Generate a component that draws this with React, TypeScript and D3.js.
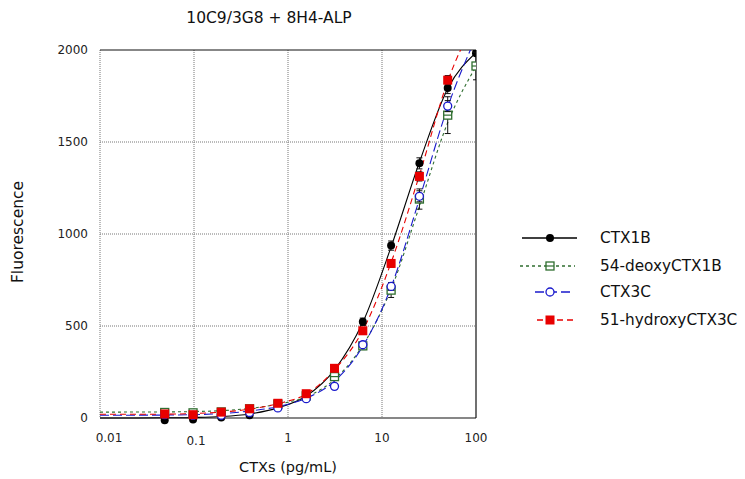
import React, { useRef, useEffect } from "react";
import * as d3 from "d3";

// concentrations (pg/mL), two-fold dilutions
const conc = [0.0488, 0.0977, 0.195, 0.39, 0.78, 1.5625, 3.125, 6.25, 12.5, 25, 50, 100];

// measured points (mean fluorescence) and error
const ctx1b = [-12, -8, 3, 15, 70, 130, 250, 523, 937, 1384, 1793, 1983];
const ctx1bErr = [5, 5, 5, 5, 8, 10, 12, 20, 25, 30, 30, 10];
const deoxy = [30, 28, 33, 50, 75, 120, 225, 392, 695, 1190, 1646, 1913];
const deoxyErr = [5, 5, 5, 5, 8, 10, 12, 20, 40, 55, 100, 75];
const ctx3c = [18, 14, 15, 30, 55, 105, 172, 398, 715, 1205, 1695, 2080];
const ctx3cErr = [5, 5, 5, 5, 8, 10, 12, 15, 20, 30, 30, 20];
const hydroxy = [22, 18, 32, 50, 80, 132, 270, 474, 840, 1313, 1836, 2150];
const hydroxyErr = [5, 5, 5, 5, 8, 10, 12, 15, 20, 25, 25, 20];

// fitted curves
const fitConc = [0.01, 0.0488, 0.0977, 0.195, 0.39, 0.78, 1.5625, 3.125, 6.25, 12.5, 25, 50, 100];
const ctx1bFit = [0, 1, 3, 8, 22, 55, 120, 262, 520, 930, 1390, 1790, 1985];
const deoxyFit = [32, 33, 35, 40, 52, 75, 115, 210, 395, 700, 1150, 1605, 1910];
const ctx3cFit = [15, 16, 18, 24, 38, 62, 108, 200, 390, 712, 1190, 1690, 2070];
const hydroxyFit = [20, 21, 24, 32, 48, 78, 130, 262, 476, 845, 1320, 1830, 2170];

const seriesNames = ["CTX1B", "54-deoxyCTX1B", "CTX3C", "51-hydroxyCTX3C"];
const xTicks = [0.01, 0.1, 1, 10, 100];
const xTickLabels = ["0.01", "0.1", "1", "10", "100"];
const yTicks = [0, 500, 1000, 1500, 2000];

const series = [
  { name: seriesNames[0], vals: ctx1b, err: ctx1bErr, fit: ctx1bFit, color: "#000000", dash: null, marker: "dot" },
  { name: seriesNames[1], vals: deoxy, err: deoxyErr, fit: deoxyFit, color: "#2f6e2f", dash: "3,3", marker: "sqline" },
  { name: seriesNames[2], vals: ctx3c, err: ctx3cErr, fit: ctx3cFit, color: "#1a1acc", dash: "9,4", marker: "circle" },
  { name: seriesNames[3], vals: hydroxy, err: hydroxyErr, fit: hydroxyFit, color: "#e80000", dash: "6,4", marker: "square" },
];

const FONT = "'DejaVu Sans', sans-serif";

function drawMarker(g, type, color, x, y) {
  if (type === "dot") {
    g.append("circle").attr("cx", x).attr("cy", y).attr("r", 4).attr("fill", color);
  } else if (type === "circle") {
    g.append("circle").attr("cx", x).attr("cy", y).attr("r", 4)
      .attr("fill", "white").attr("stroke", color).attr("stroke-width", 1.3);
  } else if (type === "square") {
    g.append("rect").attr("x", x - 4.5).attr("y", y - 4.5).attr("width", 9).attr("height", 9)
      .attr("fill", color);
  } else {
    g.append("rect").attr("x", x - 4).attr("y", y - 4).attr("width", 8).attr("height", 8)
      .attr("fill", "white").attr("stroke", color).attr("stroke-width", 1.3);
    g.append("line").attr("x1", x - 4).attr("x2", x + 4).attr("y1", y).attr("y2", y)
      .attr("stroke", color).attr("stroke-width", 1.2);
  }
}

const App = () => {
  const svgRef = useRef(null);

  useEffect(() => {
    const svg = d3.select(svgRef.current);
    svg.selectAll("*").remove();

    const left = 100, right = 476, top = 50, bottom = 418;

    const x = d3.scaleLog().domain([0.01, 100]).range([left, right]);
    const y = d3.scaleLinear().domain([0, 2000]).range([bottom, top]);

    svg.append("defs").append("clipPath").attr("id", "plotclip")
      .append("rect").attr("x", left).attr("y", top).attr("width", right - left).attr("height", bottom - top + 12);

    // grid
    const grid = svg.append("g").attr("stroke", "#777").attr("stroke-dasharray", "1,1").attr("stroke-width", 1);
    xTicks.slice(1, -1).forEach(t => {
      grid.append("line").attr("x1", x(t)).attr("x2", x(t)).attr("y1", top).attr("y2", bottom);
    });
    yTicks.slice(1, -1).forEach(t => {
      grid.append("line").attr("x1", left).attr("x2", right).attr("y1", y(t)).attr("y2", y(t));
    });
    grid.append("line").attr("x1", left).attr("x2", left).attr("y1", top).attr("y2", bottom);

    // frame
    const frame = svg.append("g").attr("stroke", "#111").attr("stroke-width", 1.2).attr("fill", "none");
    frame.append("line").attr("x1", left).attr("x2", right).attr("y1", bottom).attr("y2", bottom);
    frame.append("line").attr("x1", right).attr("x2", right).attr("y1", top).attr("y2", bottom);
    frame.append("line").attr("x1", left).attr("x2", right).attr("y1", top).attr("y2", top);

    // tick labels
    yTicks.forEach(t => {
      svg.append("text").attr("x", 88).attr("y", y(t) + 4).attr("text-anchor", "end")
        .attr("font-family", FONT).attr("font-size", 12).attr("fill", "#222").text(t);
    });
    xTicks.forEach((t, i) => {
      svg.append("text").attr("x", x(t) + (i === 0 ? 9 : i === 1 ? 2 : 0)).attr("y", i === 1 ? 445 : 442)
        .attr("text-anchor", "middle").attr("font-family", FONT).attr("font-size", 12)
        .attr("fill", "#222").text(xTickLabels[i]);
    });

    // curves
    const plot = svg.append("g").attr("clip-path", "url(#plotclip)");
    series.forEach(s => {
      const line = d3.line()
        .x((d, i) => x(fitConc[i]))
        .y(d => y(d))
        .curve(d3.curveMonotoneX);
      plot.append("path").attr("d", line(s.fit)).attr("fill", "none")
        .attr("stroke", s.color).attr("stroke-width", 1.1)
        .attr("stroke-dasharray", s.dash);
    });

    // error bars + markers
    series.forEach(s => {
      const g = plot.append("g");
      s.vals.forEach((v, i) => {
        const cx = x(conc[i]);
        const e = s.err[i];
        if (e > 8) {
          g.append("line").attr("x1", cx).attr("x2", cx).attr("y1", y(v - e)).attr("y2", y(v + e))
            .attr("stroke", "#111").attr("stroke-width", 1);
          [v - e, v + e].forEach(b => {
            g.append("line").attr("x1", cx - 3).attr("x2", cx + 3).attr("y1", y(b)).attr("y2", y(b))
              .attr("stroke", "#111").attr("stroke-width", 1);
          });
        }
        drawMarker(g, s.marker, s.color, cx, y(v));
      });
    });

    // legend
    const lg = svg.append("g");
    const rows = [238, 266, 292, 320];
    const spans = [[522, 577], [520, 575], [535, 572], [537, 575]];
    series.forEach((s, i) => {
      lg.append("line").attr("x1", spans[i][0]).attr("x2", spans[i][1]).attr("y1", rows[i]).attr("y2", rows[i])
        .attr("stroke", s.color).attr("stroke-width", 1.3).attr("stroke-dasharray", s.dash);
      drawMarker(lg, s.marker, s.color, 550, rows[i]);
      lg.append("text").attr("x", 600).attr("y", rows[i] + 5).attr("font-family", FONT)
        .attr("font-size", 15.3).attr("fill", "#111").text(s.name);
    });

    // titles
    svg.append("text").attr("x", 269).attr("y", 23).attr("text-anchor", "middle")
      .attr("font-family", FONT).attr("font-size", 15.5).attr("fill", "#111").text("10C9/3G8 + 8H4-ALP");
    svg.append("text").attr("x", 288).attr("y", 472).attr("text-anchor", "middle")
      .attr("font-family", FONT).attr("font-size", 14.5).attr("fill", "#111").text("CTXs (pg/mL)");
    svg.append("text").attr("transform", "translate(23,232)rotate(-90)").attr("text-anchor", "middle")
      .attr("font-family", FONT).attr("font-size", 15.5).attr("fill", "#111").text("Fluorescence");
  }, []);

  return (
    <svg ref={svgRef} width={745} height={479} style={{ position: "absolute", left: 0, top: 0, background: "white" }}></svg>
  );
};

export default App;
